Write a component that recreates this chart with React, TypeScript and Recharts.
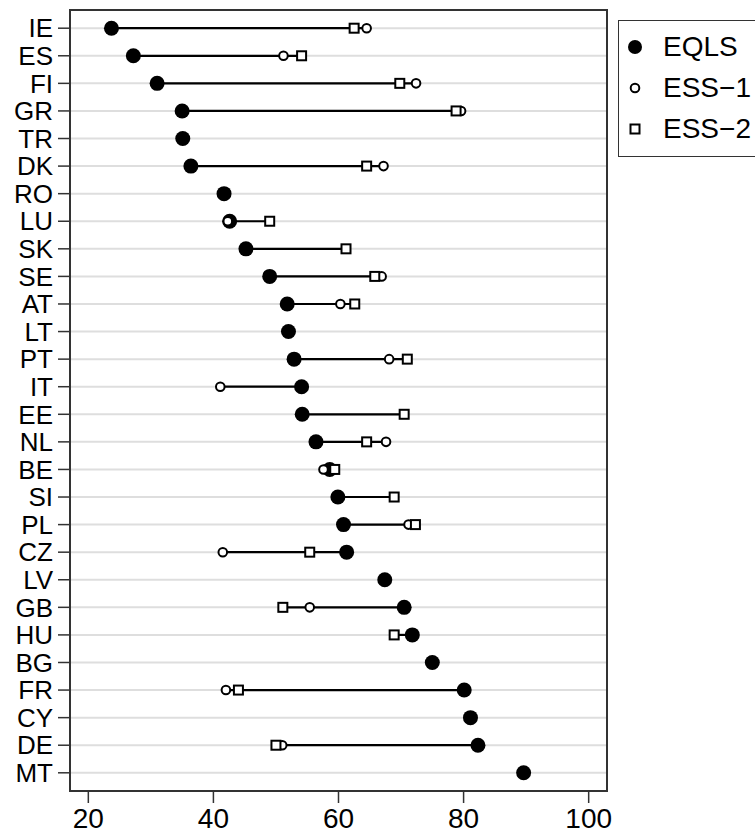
import React from 'react';
import {
  ScatterChart,
  Scatter,
  XAxis,
  YAxis,
  CartesianGrid,
  ReferenceLine,
  ReferenceArea,
} from 'recharts';

const countries = [
  'IE', 'ES', 'FI', 'GR', 'TR', 'DK', 'RO', 'LU', 'SK', 'SE', 'AT', 'LT', 'PT', 'IT',
  'EE', 'NL', 'BE', 'SI', 'PL', 'CZ', 'LV', 'GB', 'HU', 'BG', 'FR', 'CY', 'DE', 'MT',
];

const eqls = [
  23.7, 27.2, 31.0, 35.0, 35.1, 36.4, 41.7, 42.6, 45.2, 49.0, 51.8, 52.0, 52.9, 54.1,
  54.2, 56.4, 58.6, 59.9, 60.8, 61.3, 67.4, 70.5, 71.8, 75.0, 80.1, 81.1, 82.3, 89.6,
];

const ess1: (number | null)[] = [
  64.5, 51.2, 72.4, 79.6, null, 67.2, null, 42.3, null, 66.9, 60.3, null, 68.1, 41.1,
  null, 67.6, 57.6, null, 71.2, 41.5, null, 55.4, null, null, 42.0, null, 51.0, null,
];

const ess2: (number | null)[] = [
  62.5, 54.1, 69.8, 78.8, null, 64.5, null, 49.0, 61.2, 65.8, 62.6, null, 71.0, null,
  70.5, 64.5, 59.4, 68.9, 72.3, 55.4, null, 51.1, 68.9, null, 44.0, null, 50.0, null,
];

const xTicks = [20, 40, 60, 80, 100];
const legendItems = ['EQLS', 'ESS\u22121', 'ESS\u22122'];

const FONT = '"Liberation Sans", Arial, Helvetica, sans-serif';
const X_MIN = 17.07;
const X_MAX = 102.93;
const Y_MIN = -0.66;
const Y_MAX = 27.66;

const toPoints = (vals: (number | null)[]) =>
  vals.map((v, i) => (v == null ? null : { x: v, y: i })).filter(Boolean) as { x: number; y: number }[];

// min..max line per country, only where more than one survey value exists
const ranges = countries.map((_, i) => {
  const vals = [eqls[i], ess1[i], ess2[i]].filter((v) => v != null) as number[];
  return { y: i, lo: Math.min(...vals), hi: Math.max(...vals), n: vals.length };
});

const FilledDot = (p: any) => <circle cx={p.cx} cy={p.cy} r={7.5} fill="#000" />;
const OpenDot = (p: any) => (
  <circle cx={p.cx} cy={p.cy} r={4.3} fill="#fff" stroke="#000" strokeWidth={2} />
);
const OpenSquare = (p: any) => (
  <rect x={p.cx - 4.5} y={p.cy - 4.5} width={9} height={9} fill="#fff" stroke="#000" strokeWidth={2} />
);

const LegendBox = () => (
  <div
    style={{
      position: 'absolute',
      left: 618,
      top: 20,
      width: 170,
      height: 137,
      border: '1.5px solid #333',
      boxSizing: 'border-box',
      background: '#fff',
      fontFamily: FONT,
      fontSize: 28,
    }}
  >
    {legendItems.map((name, i) => (
      <div
        key={name}
        style={{ position: 'absolute', left: 0, top: 8 + i * 41, height: 36, display: 'flex', alignItems: 'center' }}
      >
        <svg width={40} height={36} style={{ display: 'block' }}>
          {i === 0 && <circle cx={16} cy={18} r={7} fill="#000" />}
          {i === 1 && <circle cx={16} cy={18} r={4.3} fill="#fff" stroke="#000" strokeWidth={2} />}
          {i === 2 && <rect x={11.5} y={13.5} width={9} height={9} fill="#fff" stroke="#000" strokeWidth={2} />}
        </svg>
        <span style={{ marginLeft: 4, color: '#000', lineHeight: '36px' }}>{name}</span>
      </div>
    ))}
  </div>
);

export default function App() {
  return (
    <div style={{ position: 'absolute', left: 0, top: 0, width: 755, height: 835, background: '#fff', overflow: 'hidden' }}>
      <ScatterChart width={755} height={835} margin={{ top: 10, right: 148, bottom: 0, left: 0 }}>
        <CartesianGrid vertical={false} stroke="#dedede" strokeWidth={2} />
        <XAxis
          type="number"
          dataKey="x"
          domain={[X_MIN, X_MAX]}
          ticks={xTicks}
          allowDataOverflow
          height={44}
          axisLine={false}
          tickSize={12}
          tickMargin={5}
          tickLine={{ stroke: '#333', strokeWidth: 1.5 }}
          tick={{ fill: '#000', fontSize: 28, fontFamily: FONT }}
        />
        <YAxis
          type="number"
          dataKey="y"
          domain={[Y_MIN, Y_MAX]}
          ticks={countries.map((_, i) => i)}
          interval={0}
          reversed
          allowDataOverflow
          width={70}
          axisLine={false}
          tickSize={12}
          tickMargin={5}
          tickLine={{ stroke: '#333', strokeWidth: 1.5 }}
          tickFormatter={(i: number) => countries[i]}
          tick={{ fill: '#000', fontSize: 26, fontFamily: FONT }}
        />
        <ReferenceArea
          x1={X_MIN}
          x2={X_MAX}
          y1={Y_MIN}
          y2={Y_MAX}
          fill="none"
          fillOpacity={0}
          stroke="#333"
          strokeWidth={2}
          ifOverflow="visible"
        />
        {ranges
          .filter((r) => r.n > 1)
          .map((r) => (
            <ReferenceLine
              key={r.y}
              segment={[{ x: r.lo, y: r.y }, { x: r.hi, y: r.y }]}
              stroke="#000"
              strokeWidth={2.2}
            />
          ))}
        <Scatter name="EQLS" data={toPoints(eqls)} shape={FilledDot} isAnimationActive={false} />
        <Scatter name="ESS-1" data={toPoints(ess1)} shape={OpenDot} isAnimationActive={false} />
        <Scatter name="ESS-2" data={toPoints(ess2)} shape={OpenSquare} isAnimationActive={false} />
      </ScatterChart>
      <LegendBox />
    </div>
  );
}
